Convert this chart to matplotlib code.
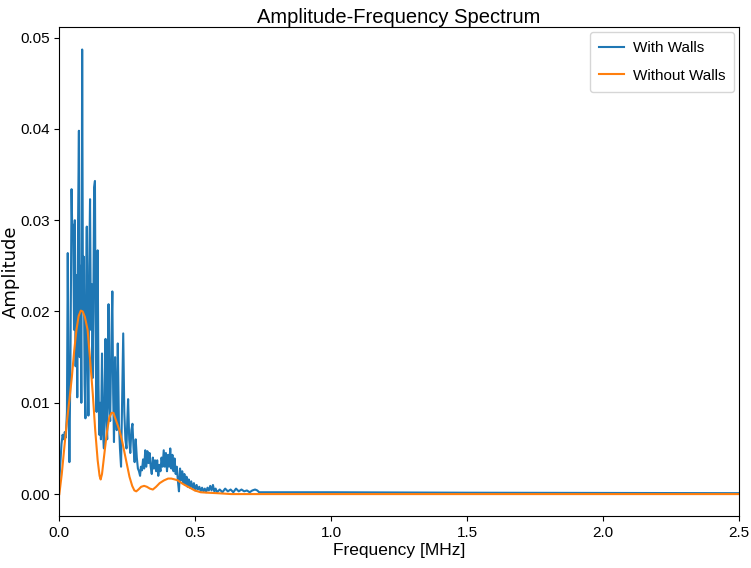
import matplotlib
matplotlib.use("Agg")
import matplotlib.pyplot as plt

# frequency [MHz] / amplitude
f_walls = [0.000, 0.004, 0.008, 0.012, 0.016, 0.020, 0.024, 0.028, 0.031, 0.034,
           0.037, 0.041, 0.045, 0.048, 0.051, 0.054, 0.057, 0.060, 0.063, 0.066,
           0.069, 0.072, 0.075, 0.078, 0.081, 0.084, 0.087, 0.090, 0.093, 0.096,
           0.099, 0.101, 0.104, 0.107, 0.110, 0.113, 0.116, 0.119, 0.122, 0.125,
           0.128, 0.131, 0.134, 0.137, 0.141, 0.144, 0.147, 0.150, 0.153, 0.157,
           0.160, 0.164, 0.167, 0.170, 0.173, 0.176, 0.181, 0.184, 0.187, 0.191,
           0.195, 0.198, 0.201, 0.205, 0.208, 0.211, 0.215, 0.219, 0.223, 0.227,
           0.231, 0.235, 0.239, 0.243, 0.247, 0.250, 0.253, 0.257, 0.261, 0.265,
           0.269, 0.273, 0.277, 0.281, 0.285, 0.289, 0.293, 0.297, 0.300, 0.304,
           0.308, 0.312, 0.316, 0.320, 0.324, 0.328, 0.332, 0.336, 0.340, 0.344,
           0.348, 0.352, 0.356, 0.360, 0.364, 0.368, 0.372, 0.376, 0.380, 0.384,
           0.388, 0.392, 0.396, 0.400, 0.404, 0.408, 0.412, 0.416, 0.420, 0.424,
           0.428, 0.432, 0.436, 0.440, 0.444, 0.448, 0.452, 0.456, 0.460, 0.464,
           0.468, 0.472, 0.476, 0.480, 0.485, 0.490, 0.495, 0.500, 0.505, 0.510,
           0.515, 0.520, 0.525, 0.530, 0.535, 0.540, 0.545, 0.550, 0.555, 0.560,
           0.565, 0.570, 0.575, 0.580, 0.590, 0.600, 0.610, 0.620, 0.630, 0.640,
           0.650, 0.660, 0.670, 0.680, 0.690, 0.700, 0.710, 0.720, 0.728, 0.735,
           1.000, 1.500, 2.000, 2.500]
a_walls = [0.0015, 0.0035, 0.0055, 0.0065, 0.0060, 0.0068, 0.0062, 0.0090, 0.0264, 0.0120,
           0.0035, 0.0150, 0.0334, 0.0280, 0.0295, 0.0180, 0.0300, 0.0140, 0.0240, 0.0106,
           0.0300, 0.0398, 0.0150, 0.0250, 0.0100, 0.0487, 0.0200, 0.0260, 0.0120, 0.0083,
           0.0240, 0.0293, 0.0150, 0.0086, 0.0250, 0.0323, 0.0180, 0.0230, 0.0127, 0.0200,
           0.0336, 0.0343, 0.0150, 0.0090, 0.0267, 0.0120, 0.0065, 0.0100, 0.0060, 0.0154,
           0.0070, 0.0050, 0.0120, 0.0170, 0.0080, 0.0060, 0.0208, 0.0100, 0.0080, 0.0160,
           0.0222, 0.0110, 0.0057, 0.0150, 0.0100, 0.0070, 0.0165, 0.0080, 0.0050, 0.0030,
           0.0100, 0.0176, 0.0090, 0.0060, 0.0050, 0.0080, 0.0104, 0.0060, 0.0045, 0.0070,
           0.0077, 0.0050, 0.0035, 0.0060, 0.0040, 0.0028, 0.0025, 0.0020, 0.0030, 0.0026,
           0.0038, 0.0028, 0.0048, 0.0030, 0.0047, 0.0034, 0.0045, 0.0030, 0.0022, 0.0040,
           0.0028, 0.0037, 0.0025, 0.0037, 0.0020, 0.0032, 0.0025, 0.0040, 0.0030, 0.0048,
           0.0030, 0.0045, 0.0025, 0.0043, 0.0030, 0.0050, 0.0028, 0.0043, 0.0025, 0.0039,
           0.0022, 0.0030, 0.0015, 0.0003, 0.0028, 0.0015, 0.0025, 0.0012, 0.0022, 0.0010,
           0.0019, 0.0008, 0.0016, 0.0007, 0.0014, 0.0006, 0.0012, 0.0004, 0.0010, 0.0005,
           0.0008, 0.0003, 0.0007, 0.0003, 0.0006, 0.0002, 0.0007, 0.0004, 0.0009, 0.0004,
           0.0010, 0.0003, 0.0006, 0.0002, 0.0005, 0.0002, 0.0006, 0.0003, 0.0005, 0.0002,
           0.0006, 0.0003, 0.0005, 0.0003, 0.0004, 0.0002, 0.0004, 0.0005, 0.0004, 0.0002,
           0.0002, 0.00015, 0.00012, 0.0001]

f_nowalls = [0.000, 0.009, 0.018, 0.028, 0.037, 0.046, 0.055, 0.063, 0.071, 0.079,
             0.086, 0.094, 0.104, 0.113, 0.123, 0.132, 0.141, 0.148, 0.152, 0.157,
             0.166, 0.175, 0.184, 0.192, 0.199, 0.207, 0.221, 0.231, 0.240, 0.249,
             0.258, 0.268, 0.276, 0.283, 0.291, 0.301, 0.312, 0.322, 0.333, 0.344,
             0.356, 0.369, 0.385, 0.400, 0.412, 0.425, 0.436, 0.450, 0.461, 0.480,
             0.498, 0.520, 0.546, 0.580, 0.633, 2.500]
a_nowalls = [0.0000, 0.0022, 0.0050, 0.0080, 0.0103, 0.0128, 0.0158, 0.0180, 0.0195, 0.0201,
             0.0200, 0.0194, 0.0180, 0.0148, 0.0110, 0.0070, 0.0037, 0.0020, 0.0016, 0.0022,
             0.0045, 0.0068, 0.0084, 0.0089, 0.0089, 0.0082, 0.0070, 0.0058, 0.0045, 0.0032,
             0.0019, 0.0009, 0.0004, 0.0003, 0.0005, 0.0008, 0.0009, 0.0008, 0.0006, 0.0005,
             0.0008, 0.0012, 0.0015, 0.0017, 0.0017, 0.0016, 0.0015, 0.0012, 0.0010, 0.0007,
             0.0004, 0.0002, 0.00015, 0.0001, 0.0000, 0.0000]

# narrower face for ticks/title, like the squeezed look of the original
plt.rcParams['font.family'] = ['Liberation Sans', 'DejaVu Sans']

fig = plt.figure(figsize=(7.51, 5.68), dpi=100)
ax = fig.add_axes([0.079, 0.091, 0.905, 0.861])

ax.plot(f_walls, a_walls, label='With Walls', lw=1.5)
ax.plot(f_nowalls, a_nowalls, label='Without Walls', lw=1.5)

ax.set_xlim(0, 2.5)
ax.set_title('Amplitude-Frequency Spectrum', fontsize=14.5, pad=2)
ax.set_xlabel('Frequency [MHz]', fontsize=12.5, labelpad=2)
ax.set_ylabel('Amplitude', fontsize=13, family='DejaVu Sans')
ax.yaxis.set_label_coords(-0.058, 0.5)
ax.tick_params(labelsize=11)
ax.legend(fontsize=11, loc='upper right', handlelength=1.6, handletextpad=0.6,
          borderpad=0.6, labelspacing=0.9, borderaxespad=0.3)

fig.savefig('out.png', dpi=100)
